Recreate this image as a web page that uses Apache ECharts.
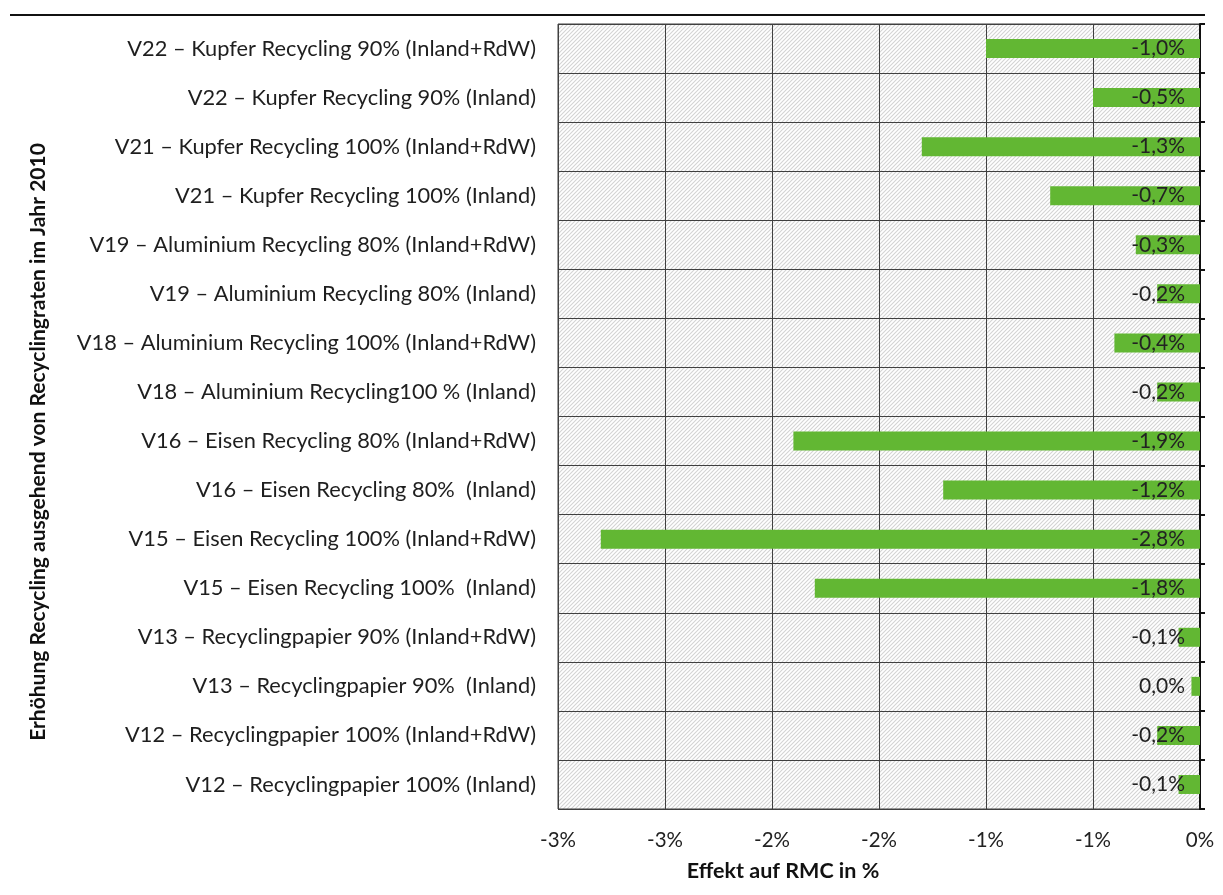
<!DOCTYPE html>
<html>
<head>
<meta charset="utf-8">
<script src="https://cdn.jsdelivr.net/npm/echarts@6/dist/echarts.min.js"></script>
<style>
  html, body { margin: 0; padding: 0; background: #fff; }
  #chart { width: 1223px; height: 895px; }
</style>
</head>
<body>
<div id="chart"></div>
<script>
// Scenarios, listed top to bottom
const categories = [
  'V22 – Kupfer Recycling 90% (Inland+RdW)',
  'V22 – Kupfer Recycling 90% (Inland)',
  'V21 – Kupfer Recycling 100% (Inland+RdW)',
  'V21 – Kupfer Recycling 100% (Inland)',
  'V19 – Aluminium Recycling 80% (Inland+RdW)',
  'V19 – Aluminium Recycling 80% (Inland)',
  'V18 – Aluminium Recycling 100% (Inland+RdW)',
  'V18 – Aluminium Recycling100 % (Inland)',
  'V16 – Eisen Recycling 80% (Inland+RdW)',
  'V16 – Eisen Recycling 80%  (Inland)',
  'V15 – Eisen Recycling 100% (Inland+RdW)',
  'V15 – Eisen Recycling 100%  (Inland)',
  'V13 – Recyclingpapier 90% (Inland+RdW)',
  'V13 – Recyclingpapier 90%  (Inland)',
  'V12 – Recyclingpapier 100% (Inland+RdW)',
  'V12 – Recyclingpapier 100% (Inland)'
];

// Effect on RMC in percent
const effects = [-1.0, -0.5, -1.3, -0.7, -0.3, -0.2, -0.4, -0.2, -1.9, -1.2, -2.8, -1.8, -0.1, -0.04, -0.2, -0.1];

// Axis tick labels (ticks every 0.5 %, shown rounded to whole percent)
const tickLabels = ['-3%', '-3%', '-2%', '-2%', '-1%', '-1%', '0%'];

const xAxisTitle = 'Effekt auf RMC in %';
const yAxisTitle = 'Erhöhung Recycling ausgehend von Recyclingraten im Jahr 2010';

const FONT = 'Lato';

// Diagonal hatch tile for the plot background
function hatchTile() {
  const c = document.createElement('canvas');
  c.width = 4; c.height = 4;
  const g = c.getContext('2d');
  g.fillStyle = '#ffffff';
  g.fillRect(0, 0, 4, 4);
  g.strokeStyle = '#d3d3d3';
  g.lineWidth = 1.1;
  g.beginPath();
  g.moveTo(-1, 5); g.lineTo(5, -1);
  g.moveTo(-1, 1); g.lineTo(1, -1);
  g.moveTo(3, 5); g.lineTo(5, 3);
  g.stroke();
  return c;
}

function fmtPct(v) {
  let s = Math.abs(v).toFixed(1);
  if (Number(s) !== 0 && v < 0) s = '-' + s;
  return s.replace('.', ',') + '%';
}

const chart = echarts.init(document.getElementById('chart'), null, { renderer: 'canvas' });

chart.setOption({
  animation: false,
  backgroundColor: '#ffffff',
  grid: {
    left: 558, right: 23, top: 24, bottom: 86,
    show: true,
    backgroundColor: { image: hatchTile(), repeat: 'repeat' },
    borderColor: '#404040',
    borderWidth: 1
  },
  xAxis: {
    type: 'value',
    min: -3, max: 0, interval: 0.5,
    axisLine: { show: false },
    axisTick: { show: false },
    splitLine: { show: true, lineStyle: { color: '#404040', width: 1 } },
    axisLabel: {
      formatter: (v, i) => tickLabels[i],
      margin: 21,
      fontFamily: FONT, fontSize: 20.5, color: '#222'
    }
  },
  yAxis: [
    {
      type: 'category',
      inverse: true,
      data: categories,
      position: 'left',
      axisLine: { show: false },
      axisTick: { show: false },
      splitLine: { show: true, lineStyle: { color: '#404040', width: 1 } },
      axisLabel: { margin: 22, fontFamily: FONT, fontSize: 21.8, color: '#1e1e1e' }
    },
    {
      type: 'category',
      inverse: true,
      data: categories,
      position: 'right',
      axisLine: { show: true, lineStyle: { color: '#111', width: 2 } },
      axisTick: { show: true, length: 5, lineStyle: { color: '#111', width: 2 } },
      axisLabel: { show: false },
      splitLine: { show: false }
    }
  ],
  series: [{
    type: 'bar',
    data: effects,
    yAxisIndex: 0,
    barWidth: 19,
    itemStyle: { color: '#62b733' },
    label: {
      show: true,
      position: 'insideRight',
      distance: 15,
      formatter: p => fmtPct(p.value),
      fontFamily: FONT, fontSize: 21, color: '#222'
    }
  }],
  graphic: [
    {
      type: 'line',
      shape: { x1: 10, y1: 15, x2: 1205, y2: 15 },
      style: { stroke: '#111', lineWidth: 2 }
    },
    {
      type: 'text',
      x: 783, y: 871,
      style: {
        text: xAxisTitle,
        fontFamily: FONT, fontSize: 21.5, fontWeight: 'bold', fill: '#111',
        align: 'center', verticalAlign: 'middle'
      }
    },
    {
      type: 'text',
      x: 38, y: 442,
      rotation: Math.PI / 2,
      style: {
        text: yAxisTitle,
        fontFamily: FONT, fontSize: 21, fontWeight: 'bold', fill: '#111',
        align: 'center', verticalAlign: 'middle'
      }
    }
  ]
});
</script>
</body>
</html>
